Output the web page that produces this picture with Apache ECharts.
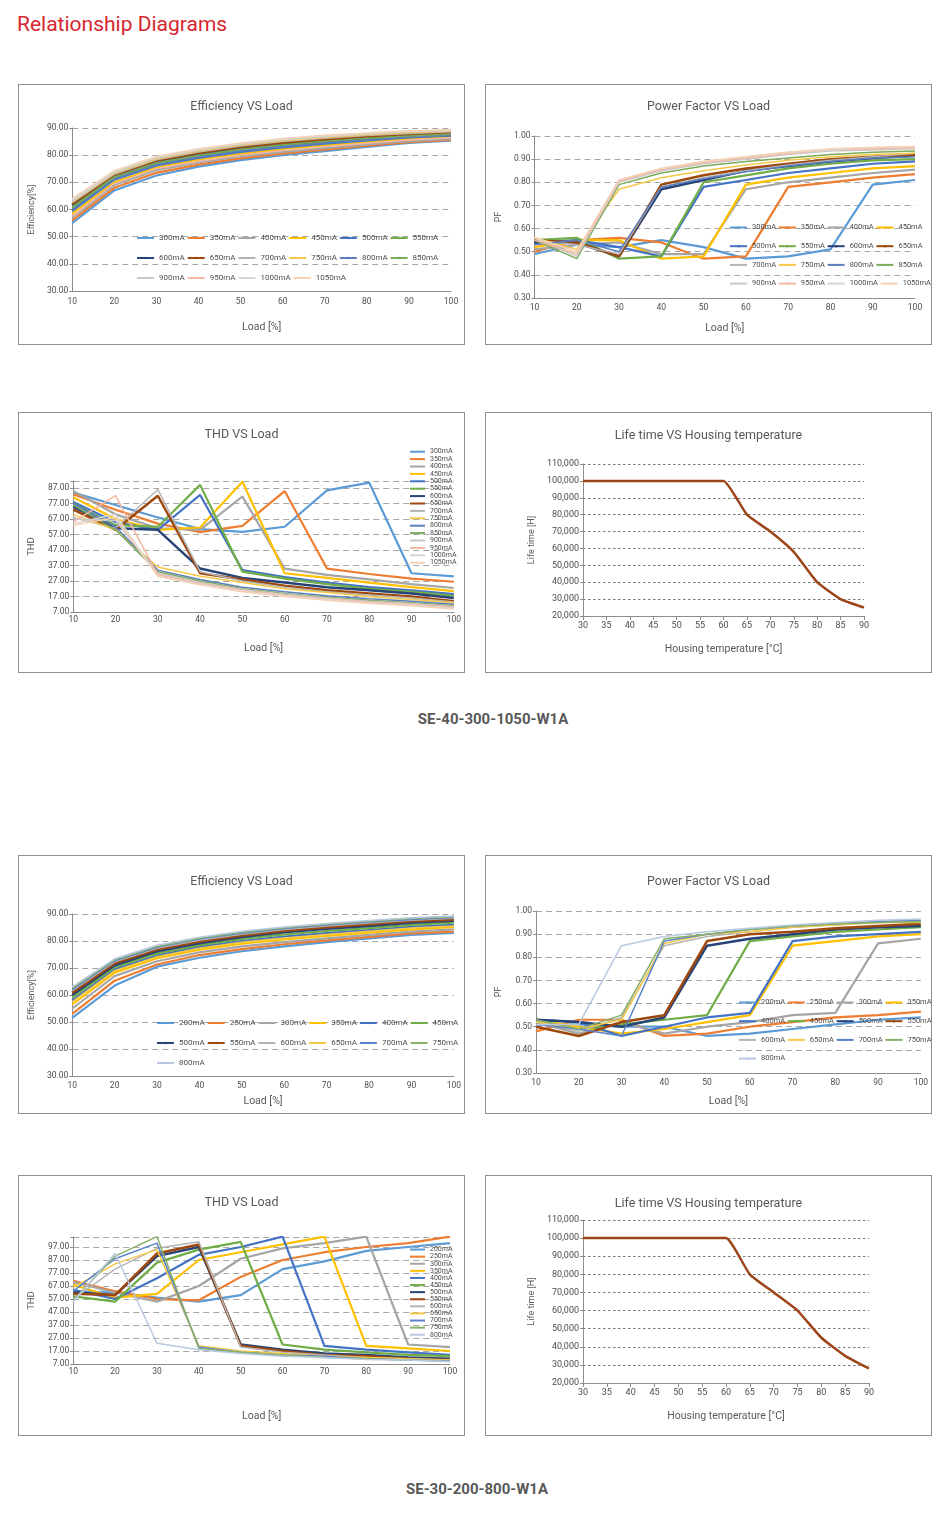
<!DOCTYPE html>
<html><head><meta charset="utf-8">
<script src="https://cdn.jsdelivr.net/npm/echarts@6/dist/echarts.min.js"></script>
<style>
html,body{margin:0;padding:0;background:#fff;}
#page{position:relative;width:941px;height:1518px;font-family:Roboto,"DejaVu Sans",sans-serif;}
.hdr{position:absolute;left:17px;top:10px;font-size:21px;color:#D6262E;line-height:28px;white-space:nowrap;}
.panel{position:absolute;box-sizing:border-box;border:1px solid #8f8f8f;}
.panel > div{position:absolute;left:0;top:0;right:0;bottom:0;}
.model{position:absolute;transform:translateX(-50%);font-weight:bold;font-size:15px;color:#595959;white-space:nowrap;line-height:18px;}
</style></head><body>
<div id="page">
 <div class="hdr">Relationship Diagrams</div>
 <div class="panel" style="left:18px;top:84px;width:447px;height:261px"><div id="c1"></div></div>
 <div class="panel" style="left:485px;top:84px;width:447px;height:261px"><div id="c2"></div></div>
 <div class="panel" style="left:18px;top:412px;width:447px;height:261px"><div id="c3"></div></div>
 <div class="panel" style="left:485px;top:412px;width:447px;height:261px"><div id="c4"></div></div>
 <div class="model" style="left:493px;top:710px">SE-40-300-1050-W1A</div>
 <div class="panel" style="left:18px;top:855px;width:447px;height:259px"><div id="c5"></div></div>
 <div class="panel" style="left:485px;top:855px;width:447px;height:259px"><div id="c6"></div></div>
 <div class="panel" style="left:18px;top:1175px;width:447px;height:261px"><div id="c7"></div></div>
 <div class="panel" style="left:485px;top:1175px;width:447px;height:261px"><div id="c8"></div></div>
 <div class="model" style="left:477px;top:1480px">SE-30-200-800-W1A</div>
</div>
<script>
// ---------- DATA ----------
const loads = [10,20,30,40,50,60,70,80,90,100];
const currentsA = ['300mA','350mA','400mA','450mA','500mA','550mA','600mA','650mA','700mA','750mA','800mA','850mA','900mA','950mA','1000mA','1050mA'];
const currentsB = ['200mA','250mA','300mA','350mA','400mA','450mA','500mA','550mA','600mA','650mA','700mA','750mA','800mA'];

const effA = [
 [55,67,72.5,75.8,78.2,80,81.5,83,84.5,85.3],
 [56,68,73.5,76.5,78.8,80.6,82,83.5,84.8,85.6],
 [57,69,74.5,77.3,79.5,81.2,82.6,84,85.2,86],
 [58.5,70,75.5,78.3,80.5,82.2,83.6,84.8,86,86.8],
 [59.5,71,76.2,79,81.2,82.9,84.2,85.4,86.5,87.2],
 [60.5,71.5,76.8,79.6,81.8,83.5,84.8,85.9,86.9,87.5],
 [61.5,72.3,77.5,80.3,82.5,84.1,85.3,86.4,87.3,88],
 [62,72.8,78,80.8,83,84.6,85.8,86.8,87.7,88.3],
 [62.5,73,78.3,81.2,83.4,85,86.2,87.2,88,88.6],
 [62.8,73.3,78.6,81.5,83.7,85.3,86.5,87.5,88.3,88.8],
 [60,71.2,76.5,79.3,81.5,83.2,84.5,85.7,86.7,87.4],
 [61,72,77.2,80,82.2,83.8,85.1,86.2,87.1,87.8],
 [63,73.6,78.9,81.8,84,85.6,86.8,87.8,88.6,89],
 [57.5,69.5,75,77.8,80,81.7,83.1,84.4,85.6,86.4],
 [63.5,74,79.2,82.1,84.3,85.9,87.1,88,88.8,89.2],
 [64,74.3,79.5,82.4,84.5,86.1,87.3,88.2,89,89.4]
];
const pfA = [
 [0.49,0.53,0.52,0.55,0.52,0.47,0.48,0.51,0.79,0.81],
 [0.50,0.55,0.56,0.54,0.47,0.48,0.78,0.80,0.82,0.835],
 [0.51,0.53,0.54,0.49,0.49,0.77,0.80,0.82,0.84,0.855],
 [0.52,0.55,0.55,0.47,0.48,0.79,0.82,0.84,0.86,0.87],
 [0.54,0.55,0.52,0.48,0.78,0.81,0.84,0.86,0.88,0.89],
 [0.55,0.56,0.47,0.48,0.80,0.83,0.86,0.88,0.895,0.90],
 [0.54,0.54,0.48,0.77,0.81,0.85,0.87,0.89,0.905,0.915],
 [0.55,0.54,0.48,0.79,0.83,0.86,0.88,0.90,0.91,0.92],
 [0.55,0.53,0.49,0.78,0.82,0.85,0.875,0.895,0.91,0.925],
 [0.56,0.51,0.77,0.82,0.85,0.875,0.895,0.91,0.92,0.925],
 [0.53,0.55,0.50,0.78,0.815,0.845,0.87,0.89,0.905,0.91],
 [0.55,0.47,0.79,0.84,0.87,0.89,0.905,0.92,0.93,0.935],
 [0.56,0.48,0.80,0.85,0.88,0.90,0.92,0.935,0.94,0.945],
 [0.55,0.49,0.805,0.855,0.885,0.905,0.925,0.94,0.945,0.95],
 [0.56,0.50,0.81,0.86,0.89,0.91,0.93,0.94,0.95,0.955],
 [0.56,0.50,0.81,0.86,0.89,0.91,0.93,0.945,0.95,0.955]
];
const thdA = [
 [84,76,68,60.5,58.7,62,85.5,90.4,32,30],
 [83,73,64,58.5,62.5,85,35,31.5,28.5,26.5],
 [85,70,61,60,81.5,35,31,28,25,22.5],
 [81,67,60,61.5,91,32,29,26,23,20.5],
 [78,65,60,82.5,34,29.5,26,23,21,18.5],
 [77,63,62,89,33,28.5,25,22,20,17.5],
 [75,61,60,35,29,26,23,21,19,16],
 [73,60,82,32,28,24,21,19,17,14],
 [68,61,86,33,27,23,20,18,16,13.5],
 [70,60,36,30,26,22,19.5,17,15,13],
 [77,62,34,28,23,20,17.5,15.5,14,12],
 [76,60,33,27,22,19,16.5,14.5,13,11],
 [67,66,32,26,21.5,18.5,16,14,12.5,10.5],
 [65,82,31,25.5,21,18,15.5,13.5,12,10],
 [64,70,30,25,20.5,17.5,15,13,11.5,9.5],
 [63,68,30,24.5,20,17,14.5,12.5,11,9]
];
const effB = [
 [51.5,63.5,70.5,73.8,76.2,78,79.6,81,82.3,83],
 [53,65.3,71.3,74.8,77,78.8,80.2,81.5,82.8,83.5],
 [55,67,72.5,75.8,78,79.6,81,82.3,83.5,84.3],
 [56.5,68.3,73.6,76.8,79,80.6,81.9,83.1,84.3,85.2],
 [58,69.5,74.6,77.8,80,81.6,82.9,84,85.2,86],
 [59,70.3,75.4,78.5,80.8,82.4,83.7,84.8,86,86.8],
 [60,71,76.2,79.2,81.5,83.2,84.5,85.6,86.8,87.5],
 [60.8,71.7,76.8,79.8,82,83.8,85.1,86.2,87.3,88],
 [61.5,72.3,77.3,80.3,82.5,84.3,85.6,86.7,87.7,88.4],
 [57.5,69,74.2,77.3,79.5,81.1,82.4,83.6,84.8,85.6],
 [62,72.7,77.7,80.7,82.9,84.6,85.9,87,88,88.7],
 [62.5,73,78,81,83.2,84.9,86.2,87.3,88.3,89],
 [63,73.4,78.4,81.4,83.6,85.2,86.5,87.6,88.6,89.3]
];
const pfB = [
 [0.51,0.51,0.50,0.50,0.46,0.47,0.49,0.51,0.53,0.54],
 [0.48,0.53,0.53,0.46,0.47,0.50,0.52,0.54,0.55,0.565],
 [0.52,0.47,0.52,0.47,0.50,0.52,0.55,0.56,0.86,0.88],
 [0.53,0.50,0.47,0.49,0.52,0.55,0.85,0.87,0.89,0.90],
 [0.53,0.52,0.46,0.50,0.54,0.56,0.87,0.89,0.90,0.91],
 [0.52,0.49,0.51,0.53,0.55,0.87,0.89,0.91,0.92,0.93],
 [0.53,0.52,0.50,0.54,0.85,0.88,0.90,0.92,0.93,0.935],
 [0.50,0.46,0.52,0.55,0.87,0.90,0.91,0.925,0.935,0.945],
 [0.52,0.48,0.54,0.85,0.89,0.91,0.93,0.94,0.95,0.955],
 [0.52,0.49,0.53,0.86,0.90,0.91,0.93,0.94,0.95,0.95],
 [0.51,0.49,0.46,0.87,0.90,0.92,0.935,0.945,0.955,0.96],
 [0.53,0.49,0.55,0.88,0.90,0.92,0.935,0.945,0.95,0.955],
 [0.51,0.51,0.85,0.89,0.91,0.925,0.94,0.95,0.96,0.965]
];
const thdB = [
 [63,62,58,55,60,80,86,94,97,100],
 [71,63,57,56,74,87,93,97,100,105],
 [70,62,55,67,88,96,100,105,22,20],
 [68,58,61,87,93,99,105,21,19,17],
 [64,57,73,91,97,105,21,18,16,14],
 [59,55,85,95,101,22,18,16,14,13],
 [62,60,90,97,22,18,15,14,12,11],
 [61,60,92,99,21,17,14,13,11,10],
 [57,80,96,101,20,16,14,12,11,10],
 [66,84,95,21,17,15,13,12,11,10],
 [63,88,100,20,16,14,13,11,10,9.5],
 [56,90,105,19,16,14,12,11,10,9],
 [55,92,23,18,15,13,12,10.5,10,9]
];
const tempC = [30,35,40,45,50,55,60,65,70,75,80,85,90];
const lifeA = [100000,100000,100000,100000,100000,100000,100000,80000,70000,58000,40000,30000,25000];
const lifeB = [100000,100000,100000,100000,100000,100000,100000,80000,70000,60000,45000,35000,28000];

// ---------- STYLE ----------
const colorsA = ['#5B9BD5','#ED7D31','#A5A5A5','#FFC000','#4472C4','#70AD47','#264478','#9E480E','#B4B4B4','#F5C848','#5E7FBF','#7AAA5A','#C9C9C9','#F4B7A2','#D6D6D6','#F6D2B4'];
const widthsA = [2.2,2.2,2.2,2.2,2.2,2.2,2.5,2.5,1.5,1.5,1.5,1.5,1.5,1.5,1.5,1.5];
const colorsB = ['#5B9BD5','#ED7D31','#A5A5A5','#FFC000','#4472C4','#70AD47','#264478','#9E480E','#B4B4B4','#F5C848','#5B84C8','#88B068','#B8C8E0'];
const widthsB = [2.2,2.2,2.2,2.2,2.2,2.2,2.5,2.5,1.5,1.5,1.5,1.5,1.5];
const FONT = 'Roboto, "DejaVu Sans", sans-serif';
const AX = '#8c8c8c', LBL = '#4d4d4d', TTL = '#595959', GRIDC = '#a6a6a6';

function makeChart(id, c) {
  const chart = echarts.init(document.getElementById(id), null, {renderer:'canvas'});
  const series = c.names.map((n, i) => ({
    name: n, type: 'line', symbol: 'none', smooth: c.smooth || false, clip: true,
    data: c.x.map((x, j) => [x, c.data[i][j]]),
    lineStyle: {width: c.widths[i], color: c.colors[i]},
    itemStyle: {color: c.colors[i]},
    emphasis: {disabled: true}
  }));
  const L = c.legend;
  const f = c.labelFont || 8.5;
  const opt = {
    animation: false,
    textStyle: {fontFamily: FONT},
    title: {text: c.title, left: 'center', top: c.titleTop,
      textStyle: {fontSize: 12.5, fontWeight: 'normal', color: TTL, fontFamily: FONT}},
    grid: c.grid,
    xAxis: {
      type: 'value', min: c.xmin, max: c.xmax, interval: c.xint,
      axisLine: {show: true, lineStyle: {color: AX, width: 1}},
      axisTick: {show: !!c.xTick, length: 4, lineStyle: {color: AX}},
      axisLabel: {fontSize: f, color: LBL, fontFamily: FONT, margin: c.xMargin},
      splitLine: {show: false},
      name: c.xName, nameLocation: 'middle', nameGap: c.xNameGap,
      nameTextStyle: {fontSize: 10.5, color: TTL, fontFamily: FONT}
    },
    yAxis: {
      type: 'value', min: c.ymin, max: c.ymax, interval: c.yint,
      axisLine: {show: true, lineStyle: {color: AX, width: 1}},
      axisTick: {show: true, length: 3, lineStyle: {color: AX}},
      axisLabel: {fontSize: f, color: LBL, fontFamily: FONT, margin: 4, formatter: c.yFmt},
      splitLine: {show: true, lineStyle: {color: c.gridColor || GRIDC, type: c.gridType || [6,4], width: 1}},
      name: c.yName, nameLocation: 'middle', nameRotate: 90, nameGap: c.yNameGap,
      nameTextStyle: {fontSize: c.yNameFont || 9, color: TTL, fontFamily: FONT}
    },
    series: series
  };
  if (L) {
    opt.legend = {
      show: true, selectedMode: false, orient: L.orient || 'horizontal',
      left: L.left, top: L.top, width: L.width, itemWidth: L.itemWidth || 17, itemHeight: L.itemHeight || 3,
      itemGap: L.gap, padding: 0,
      textStyle: {fontSize: L.fontSize || 8, color: LBL, fontFamily: FONT, width: L.textWidth,
        lineHeight: L.lineHeight, overflow: 'none'},
      data: c.names
    };
  }
  chart.setOption(opt);
}

const fmt2 = v => v.toFixed(2);
const thdFmt = v => (Math.abs(((v - 7) % 10)) < 1e-6 || Math.abs(((v - 7) % 10) - 10) < 1e-6) ? v.toFixed(2) : '';
const lifeFmt = v => v.toLocaleString('en-US');

// Panel 1: Efficiency A
makeChart('c1', {
  title: 'Efficiency VS Load', titleTop: 10, names: currentsA, x: loads, data: effA, colors: colorsA, widths: widthsA,
  grid: {left: 45, right: 13, top: 43, bottom: 53},
  xmin: 10, xmax: 100, xint: 10, xName: 'Load [%]', xNameGap: 31, xMargin: 6,
  ymin: 30, ymax: 90, yint: 10, yFmt: fmt2, yName: 'Efficiency[%]', yNameGap: 30,
  legend: {left: 117, top: 144, width: 330, gap: 2, textWidth: 25.5, lineHeight: 18}
});
// Panel 2: PF A
makeChart('c2', {
  title: 'Power Factor VS Load', titleTop: 10, names: currentsA, x: loads, data: pfA, colors: colorsA, widths: widthsA,
  grid: {left: 42, right: 16, top: 51, bottom: 46},
  xmin: 10, xmax: 100, xint: 10, xName: 'Load [%]', xNameGap: 25, xMargin: 5,
  ymin: 0.3, ymax: 1.0, yint: 0.1, yFmt: fmt2, yName: 'PF', yNameGap: 26,
  legend: {left: 243, top: 134, width: 206, gap: 1.7, textWidth: 21.5, lineHeight: 17, fontSize: 7.5}
});
// Panel 3: THD A
makeChart('c3', {
  title: 'THD VS Load', titleTop: 10, names: currentsA, x: loads, data: thdA, colors: colorsA, widths: widthsA,
  grid: {left: 39, right: 10, top: 68, bottom: 60},
  xmin: 10, xmax: 100, xint: 10, xName: 'Load [%]', xNameGap: 31, xMargin: 3,
  ymin: 7, ymax: 91.5, yint: 10, yFmt: thdFmt, yName: 'THD', yNameGap: 25, yNameFont: 9.5,
  legend: {orient: 'vertical', left: 390, top: 35, gap: 0, itemWidth: 15, itemHeight: 2, fontSize: 7, lineHeight: 7.4}
});
// Panel 4: Life A
makeChart('c4', {
  title: 'Life time VS Housing temperature', titleTop: 11, names: ['Life time'], x: tempC, data: [lifeA], colors: ['#9C4518'], widths: [2.5],
  smooth: 0.15, labelFont: 9,
  grid: {left: 97, right: 67, top: 51, bottom: 56},
  xmin: 30, xmax: 90, xint: 5, xTick: true, xName: 'Housing temperature [°C]', xNameGap: 28, xMargin: 5,
  ymin: 20000, ymax: 110000, yint: 10000, yFmt: lifeFmt, yName: 'Life time [H]', yNameGap: 46,
  gridType: [2.5,2.5], gridColor: '#7a7a7a'
});
// Panel 5: Efficiency B
makeChart('c5', {
  title: 'Efficiency VS Load', titleTop: 14, names: currentsB, x: loads, data: effB, colors: colorsB, widths: widthsB,
  grid: {left: 48, right: 10, top: 58, bottom: 37},
  xmin: 10, xmax: 100, xint: 10, xName: 'Load [%]', xNameGap: 20, xMargin: 5,
  ymin: 30, ymax: 90, yint: 10, yFmt: fmt2, yName: 'Efficiency[%]', yNameGap: 30,
  legend: {left: 137, top: 158, width: 330, gap: 2, textWidth: 25.5, lineHeight: 18}
});
// Panel 6: PF B
makeChart('c6', {
  title: 'Power Factor VS Load', titleTop: 14, names: currentsB, x: loads, data: pfB, colors: colorsB, widths: widthsB,
  grid: {left: 50, right: 10, top: 55, bottom: 40},
  xmin: 10, xmax: 100, xint: 10, xName: 'Load [%]', xNameGap: 23, xMargin: 5,
  ymin: 0.3, ymax: 1.0, yint: 0.1, yFmt: fmt2, yName: 'PF', yNameGap: 33,
  legend: {left: 252, top: 138, width: 206, gap: 1.7, textWidth: 21.5, lineHeight: 17, fontSize: 7.5}
});
// Panel 7: THD B
makeChart('c7', {
  title: 'THD VS Load', titleTop: 15, names: currentsB, x: loads, data: thdB, colors: colorsB, widths: widthsB,
  grid: {left: 48, right: 14, top: 61, bottom: 71},
  xmin: 10, xmax: 100, xint: 10, xName: 'Load [%]', xNameGap: 47, xMargin: 3,
  ymin: 7, ymax: 104.7, yint: 10, yFmt: thdFmt, yName: 'THD', yNameGap: 33, yNameFont: 9.5,
  legend: {orient: 'vertical', left: 390, top: 70, gap: 0, itemWidth: 15, itemHeight: 2, fontSize: 7, lineHeight: 7.1}
});
// Panel 8: Life B
makeChart('c8', {
  title: 'Life time VS Housing temperature', titleTop: 16, names: ['Life time'], x: tempC, data: [lifeB], colors: ['#9C4518'], widths: [2.5],
  smooth: 0.15, labelFont: 9,
  grid: {left: 97, right: 62, top: 44, bottom: 52},
  xmin: 30, xmax: 90, xint: 5, xTick: true, xName: 'Housing temperature [°C]', xNameGap: 28, xMargin: 5,
  ymin: 20000, ymax: 110000, yint: 10000, yFmt: lifeFmt, yName: 'Life time [H]', yNameGap: 44,
  gridType: [2.5,2.5], gridColor: '#7a7a7a'
});
</script>
</body></html>
